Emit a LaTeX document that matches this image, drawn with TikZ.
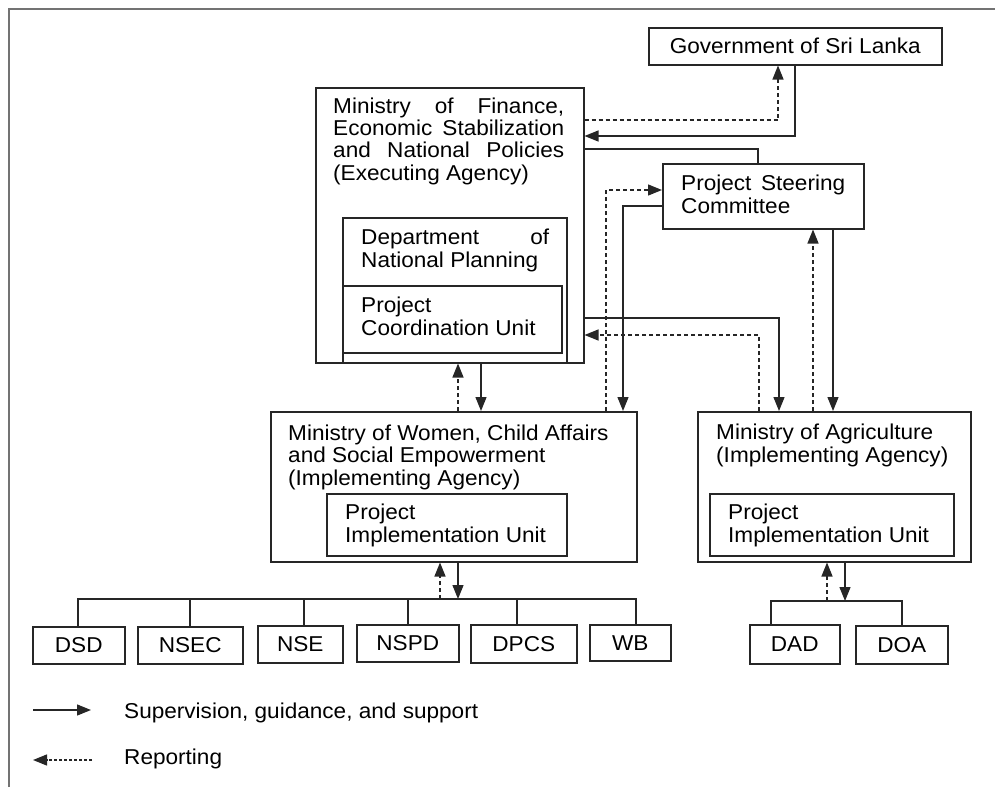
\documentclass[tikz,border=0pt]{standalone}
\usepackage{fontspec}
\setmainfont{Liberation Sans}[FakeStretch=1.05]
\usetikzlibrary{arrows.meta}
\newcommand\fs{\fontsize{21.5}{22.2}\selectfont}
\newcommand\jl[2]{\makebox[#1pt][s]{#2}}
\begin{document}
\begin{tikzpicture}[x=1pt,y=-1pt,
  box/.style={draw=black!85,line width=1.5pt,inner sep=0pt,anchor=north west},
  lbl/.style={anchor=base west,inner sep=0pt,align=left,font=\fs},
  ctr/.style={inner sep=0pt,font=\fs},
  ln/.style={line width=1.3pt,draw=black!85},
  tip/.style={-{Triangle[length=14pt,width=11pt]}},
  sup/.style={ln,tip},
  rep/.style={ln,dash pattern=on 4pt off 3pt,tip},
  legrep/.style={ln,dash pattern=on 3pt off 2pt,tip}
  ]
\useasboundingbox (0,0) rectangle (995,787);
\draw[black!55,line width=2pt] (9,787) -- (9,9) -- (995,9);

% boxes
\node[box,minimum width=293pt,minimum height=37pt] (gov) at (648,27) {};
\node[box,minimum width=268pt,minimum height=275pt] (mof) at (315,87) {};
\node[box,minimum width=224pt,minimum height=145pt] (dept) at (342,217) {};
\node[box,minimum width=219pt,minimum height=67pt] (pcu) at (342,285) {};
\node[box,minimum width=201pt,minimum height=65pt] (psc) at (662,163) {};
\node[box,minimum width=366pt,minimum height=150pt] (wca) at (270,411) {};
\node[box,minimum width=240pt,minimum height=62pt] (piua) at (326,493) {};
\node[box,minimum width=273pt,minimum height=150pt] (moa) at (697,411) {};
\node[box,minimum width=244pt,minimum height=62pt] (piub) at (709,493) {};

\node[box,minimum width=92pt,minimum height=37pt] (dsd) at (32,626) {};
\node[box,minimum width=105pt,minimum height=37pt] (nsec) at (137,626) {};
\node[box,minimum width=85pt,minimum height=37pt] (nse) at (257,625) {};
\node[box,minimum width=102pt,minimum height=37pt] (nspd) at (356,624) {};
\node[box,minimum width=106pt,minimum height=38pt] (dpcs) at (470,624) {};
\node[box,minimum width=81pt,minimum height=36pt] (wb) at (589,624) {};
\node[box,minimum width=90pt,minimum height=39pt] (dad) at (749,624) {};
\node[box,minimum width=92pt,minimum height=38pt] (doa) at (855,625) {};

% texts (anchored at the baseline of the last line)
\node[ctr] (govT) at (gov.center) {Government of Sri Lanka};
\node[lbl] (mofT) at (333,180) {\jl{231}{Ministry of Finance,}\\\jl{231}{Economic Stabilization}\\\jl{231}{and National Policies}\\(Executing Agency)};
\node[lbl] (deptT) at (361,267) {\jl{188}{Department of}\\National Planning};
\node[lbl] (pcuT) at (361,335) {Project\\Coordination Unit};
\node[lbl] (pscT) at (681,213) {\jl{164}{Project Steering}\\Committee};
\node[lbl] (wcaT) at (288,485) {Ministry of Women, Child Affairs\\and Social Empowerment\\(Implementing Agency)};
\node[lbl] (piuaT) at (345,542) {Project\\Implementation Unit};
\node[lbl] (moaT) at (716,462) {Ministry of Agriculture\\(Implementing Agency)};
\node[lbl] (piubT) at (728,542) {Project\\Implementation Unit};

\node[ctr] (dsdT) at (dsd.center) {DSD};
\node[ctr] (nsecT) at (nsec.center) {NSEC};
\node[ctr] (nseT) at (nse.center) {NSE};
\node[ctr] (nspdT) at (nspd.center) {NSPD};
\node[ctr] (dpcsT) at (dpcs.center) {DPCS};
\node[ctr] (wbT) at (wb.center) {WB};
\node[ctr] (dadT) at (dad.center) {DAD};
\node[ctr] (doaT) at (doa.center) {DOA};

% top connectors
\draw[rep] (mof.east |- 0,120) -| (778,0 |- gov.south);
\draw[sup] (795,0 |- gov.south) |- (mof.east |- 0,136);
\draw[ln] (mof.east |- 0,149) -| (758,0 |- psc.north);
\draw[rep] (606,0 |- wca.north) |- (psc.west |- 0,190);
\draw[sup] (psc.west |- 0,206) -| (623,0 |- wca.north);
\draw[rep] (813,0 |- moa.north) -- (813,0 |- psc.south);
\draw[sup] (833,0 |- psc.south) -- (833,0 |- moa.north);
\draw[sup] (mof.east |- 0,318) -| (779,0 |- moa.north);
\draw[rep] (759,0 |- moa.north) |- (mof.east |- 0,335);
\draw[rep] (458,0 |- wca.north) -- (458,0 |- mof.south);
\draw[sup] (481,0 |- mof.south) -- (481,0 |- wca.north);

% lower buses
\coordinate (busa) at (440,599);
\coordinate (busb) at (827,601);
\draw[ln] (78,0 |- dsd.north) -- (78,599) -- (636,599) -- (636,0 |- wb.north);
\draw[ln] (190,599) -- (190,0 |- nsec.north);
\draw[ln] (304,599) -- (304,0 |- nse.north);
\draw[ln] (408,599) -- (408,0 |- nspd.north);
\draw[ln] (517,599) -- (517,0 |- dpcs.north);
\draw[rep] (busa) -- (busa |- wca.south);
\draw[sup] (458,0 |- wca.south) -- (458,599);
\draw[ln] (771,0 |- dad.north) -- (771,601) -- (902,601) -- (902,0 |- doa.north);
\draw[rep] (busb) -- (busb |- moa.south);
\draw[sup] (845,0 |- moa.south) -- (845,601);

% legend
\coordinate (la) at (33,710);
\coordinate (lb) at (91,710);
\coordinate (lc) at (92,760);
\coordinate (ld) at (33,760);
\draw[sup] (la) -- (lb);
\draw[legrep] (lc) -- (ld);
\node[lbl] (legA) at (124,718) {Supervision, guidance, and support};
\node[lbl] (legB) at (124,764) {Reporting};
\end{tikzpicture}
\end{document}
